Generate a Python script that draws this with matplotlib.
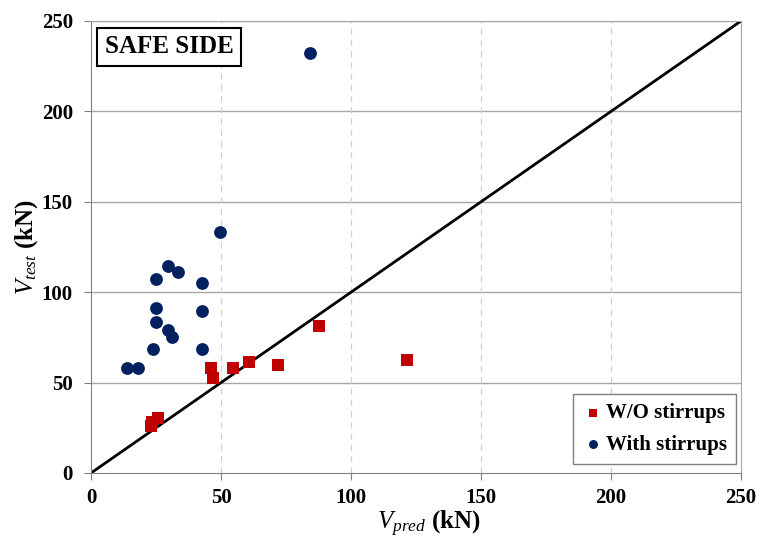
import matplotlib.pyplot as plt

plt.rcParams['font.family'] = 'Liberation Serif'
plt.rcParams['mathtext.fontset'] = 'custom'
plt.rcParams['mathtext.it'] = 'Liberation Serif:italic'
plt.rcParams['mathtext.rm'] = 'Liberation Serif'

# Datos (kN)
wo_pred = [23.1, 23.3, 25.6, 46.0, 46.9, 54.7, 60.8, 72.0, 87.6, 121.4]
wo_test = [26.0, 28.4, 30.2, 58.1, 52.5, 58.2, 61.4, 59.7, 81.5, 62.5]

with_pred = [13.8, 18.2, 23.8, 24.9, 25.1, 25.1, 29.5, 29.5, 31.3, 33.6,
             42.8, 42.8, 42.8, 49.6, 84.2]
with_test = [58.1, 58.2, 68.4, 107.3, 91.1, 83.3, 114.5, 79.1, 75.0, 111.2,
             105.3, 89.6, 68.4, 133.3, 232.3]

ticks = [0, 50, 100, 150, 200, 250]

fig = plt.figure(figsize=(7.59, 5.41), dpi=100)
ax = fig.add_axes([0.1199, 0.1257, 0.8564, 0.8355])

# Rejilla
for t in ticks[1:]:
    ax.axhline(t, color='#a6a6a6', lw=1, zorder=0)
for t in ticks[1:-1]:
    ax.axvline(t, color='#d0d0d0', lw=0.9, ls=(0, (5, 4)), zorder=0)

# Línea 1:1
ax.plot([0, 250], [0, 250], color='black', lw=2, zorder=2)

ax.scatter(wo_pred, wo_test, marker='s', s=70, color='#c00000',
           label='W/O stirrups', zorder=3, linewidths=0)
ax.scatter(with_pred, with_test, marker='o', s=85, color='#002060',
           label='With stirrups', zorder=3, linewidths=0)

ax.set_xlim(0, 250)
ax.set_ylim(0, 250)
ax.set_xticks(ticks)
ax.set_yticks(ticks)
ax.tick_params(labelsize=15, length=5, color='#808080', direction='out', pad=6)
ax.tick_params(axis='y', pad=8)
for lab in ax.get_xticklabels() + ax.get_yticklabels():
    lab.set_fontweight('bold')

for s in ['left', 'bottom']:
    ax.spines[s].set_color('#808080')
for s in ['top', 'right']:
    ax.spines[s].set_color('#a6a6a6')

ax.set_xlabel(r'$V_{pred}$ (kN)', fontsize=18, fontweight='bold')
ax.xaxis.set_label_coords(0.52, -0.08)
ax.set_ylabel(r'$V_{test}$ (kN)', fontsize=18, fontweight='bold')
ax.yaxis.set_label_coords(-0.078, 0.5)

ax.text(0.0208, 0.968, 'SAFE SIDE', transform=ax.transAxes, fontsize=18,
        fontweight='bold', va='top', ha='left',
        bbox=dict(boxstyle='square,pad=0.3', fc='white', ec='black', lw=1.5))

leg = ax.legend(loc='lower right', prop={'weight': 'bold', 'size': 15},
                fancybox=False, edgecolor='#808080', framealpha=1,
                handletextpad=0.1, handlelength=1.0, borderpad=0.45,
                labelspacing=0.55, markerscale=0.7, borderaxespad=0,
                bbox_to_anchor=(0.9923, 0.02))
leg.get_frame().set_linewidth(1)

fig.savefig('out.png', dpi=100)
